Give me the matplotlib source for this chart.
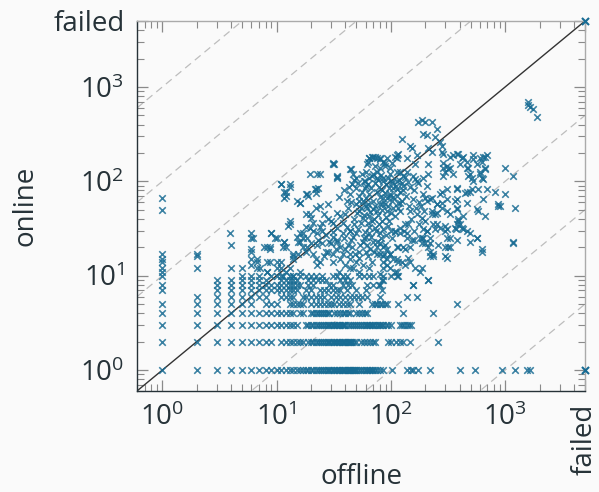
import matplotlib
matplotlib.use('Agg')
import matplotlib.pyplot as plt
from matplotlib.ticker import LogLocator, NullFormatter

plt.rcParams['font.family'] = ['Open Sans', 'DejaVu Sans']
plt.rcParams['mathtext.fontset'] = 'custom'
plt.rcParams['mathtext.rm'] = 'Open Sans'
plt.rcParams['mathtext.it'] = 'Open Sans:italic'
plt.rcParams['mathtext.bf'] = 'Open Sans:bold'

FAILED = 5000  # plotted at the axis edge

# runs with integer online time: online value -> offline values
row_y = [1, 2, 3, 4, 5, 6, 7, 8, 9, 10]
row_x = [
    [1, 2, 3, 4, 5, 6, 7, 8, 9, 10, 11, 12, 13, 14, 15, 16, 17, 18, 19, 20, 21, 22, 23, 24, 25,
     26, 27, 28, 29, 30, 31, 32, 33, 34, 35, 36, 37, 38, 39, 40, 41, 42, 43, 44, 45, 46, 47, 48,
     49, 50, 52, 54, 56, 58, 60, 62, 64, 66, 68, 70, 72, 76, 80, 86, 102, 138, 150, 155, 172,
     220, 400, 545, 940, 1230, 1560, 1660],
    [1, 2, 3, 4, 5, 6, 7, 8, 9, 11, 12, 13, 14, 15, 16, 17, 19, 20, 21, 22, 23, 24, 25, 26, 27,
     28, 29, 30, 31, 32, 33, 34, 35, 36, 37, 38, 39, 40, 41, 42, 43, 44, 45, 46, 48, 50, 55, 58,
     62, 66, 70, 72, 95, 100, 110, 120, 127, 147, 260],
    [1, 2, 3, 4, 5, 6, 7, 8, 9, 10, 11, 12, 13, 14, 15, 18, 19, 20, 21, 22, 23, 24, 25, 26, 27,
     28, 29, 30, 31, 32, 33, 34, 35, 36, 37, 38, 39, 40, 42, 44, 46, 48, 50, 52, 54, 56, 58, 60,
     62, 64, 66, 68, 70, 72, 75, 78, 80, 83, 86, 90, 95, 100, 120, 125, 130, 138, 145, 150],
    [1, 2, 3, 4, 5, 6, 7, 8, 9, 10, 11, 12, 13, 14, 16, 17, 20, 21, 22, 23, 24, 25, 26, 27, 28,
     29, 32, 34, 36, 38, 40, 42, 44, 50, 53, 56, 59, 62, 127, 234],
    [1, 2, 3, 4, 5, 6, 8, 9, 10, 13, 14, 15, 16, 17, 20, 22, 24, 26, 28, 30, 32, 35, 38, 41, 44,
     53, 68, 72, 76, 80, 84, 88, 92, 115, 380],
    [2, 3, 4, 5, 6, 7, 8, 11, 12, 13, 14, 17, 18, 20, 22, 24, 26, 30, 33, 36, 40, 44, 48, 52, 56,
     62, 138, 168],
    [1, 3, 4, 5, 6, 7, 8, 9, 10, 11, 12, 13, 14, 15, 18, 20, 24, 26, 28, 31, 34, 36, 41, 50, 60],
    [1, 3, 4, 5, 6, 7, 8, 9, 10, 11, 12, 13, 14, 15, 16, 19, 21, 29, 31, 38, 42, 46, 62, 70, 78,
     156],
    [3, 4, 5, 6, 7, 8, 11, 12, 13, 14, 15, 19, 21, 23, 25, 27, 36, 40, 44, 85, 211],
    [1, 5, 6, 7, 9, 10, 11, 13, 14, 16, 18, 20, 22, 25, 31, 34, 38, 41, 53, 58, 64, 70, 85, 100,
     115],
]

# short offline runs, higher online times
small_pts = [(1, 11), (1, 12), (1, 14), (1, 15), (1, 17), (1, 50), (1, 66), (2, 12), (2, 16),
             (2, 17), (4, 12), (5, 12), (6, 13), (6, 15), (3.9, 28), (4, 21), (6, 28), (6, 25),
             (6, 18), (9, 28), (10, 25), (8.2, 20), (8.7, 20), (11.7, 23), (11.3, 20),
             (13.8, 16), (13.8, 17), (11, 93), (13, 88), (11.7, 78), (11.7, 66), (13, 35),
             (18.3, 73), (15.9, 59), (21.5, 82), (22.9, 84), (20.7, 36), (19.5, 45), (23.8, 55),
             (25, 36), (6.8, 14), (8.2, 14), (10, 14), (11, 14), (6.8, 12), (8.2, 11), (11, 12),
             (12.2, 11), (13.8, 10), (15, 62), (15, 26)]

core_pts = [(31, 151), (34, 110), (11, 93), (13, 93), (12, 78), (12, 70), (16, 59), (18, 73),
            (19, 70), (22, 82), (22, 75), (22, 52), (18, 45), (20, 41), (13, 38), (12.5, 34),
            (28, 57), (34, 46), (36, 43), (44, 73), (41, 62), (50, 57), (53, 48), (30, 38),
            (9, 28), (9.6, 25), (7.8, 20), (8.7, 19), (11.7, 23), (12.2, 20), (16, 28),
            (15.3, 23), (17, 25), (18.3, 25), (14, 15), (15.3, 17), (17, 20), (18, 18), (20, 22),
            (22.4, 21), (25, 22), (22, 15), (22.4, 13), (28, 18), (31, 17), (31, 26), (34, 23),
            (39, 25), (42, 21), (36, 15), (44, 17), (50, 14), (6.2, 25), (6, 19), (6.8, 15),
            (8.7, 14), (10, 12), (7.1, 12), (8.2, 11), (13, 12), (11.3, 10), (16, 11),
            (65, 175), (72, 183), (80, 171), (92, 175), (102, 155), (113, 175), (61, 127),
            (68, 113), (75, 127), (85, 108), (98, 119), (113, 127), (59, 84), (65, 73), (75, 78),
            (85, 66), (98, 73), (113, 82), (53, 62), (61, 55), (70, 51), (80, 57), (92, 48),
            (104, 52), (115, 59), (57, 41), (63, 36), (72, 32), (83, 38), (94, 34), (108, 30),
            (61, 26), (70, 23), (80, 28), (89, 21), (102, 25), (113, 20), (53, 18), (63, 16),
            (75, 17), (85, 14), (98, 17), (115, 14), (31, 36), (34, 32), (38, 36), (44, 30),
            (48, 35), (44, 12), (53, 11), (65, 12), (80, 10.5), (98, 12), (113, 10),
            (46, 93), (50, 84), (53, 70), (57, 62), (62, 52), (65, 43), (69, 38), (75, 48),
            (83, 57), (92, 66), (102, 62), (115, 52), (120, 48), (108, 43), (125, 62), (113, 70),
            (98, 70), (88, 75), (44, 30), (50, 28), (57, 23), (65, 28), (75, 23), (85, 20),
            (98, 17), (113, 15), (127, 20), (141, 15.5), (61, 18), (53, 15.5), (46, 20), (38, 17),
            (34, 24), (29, 23), (27, 18), (31, 14), (35, 11), (24, 14), (20.7, 17), (18.3, 20),
            (16, 23), (17, 28), (19.5, 32), (22.4, 28), (25, 30), (31, 29)]

# extra runs in the crowded part around the diagonal
dense_pts = [(40, 45), (42, 52), (45, 60), (48, 40), (51, 46), (55, 52), (58, 44), (60, 66),
             (63, 58), (66, 47), (70, 62), (73, 55), (77, 44), (80, 68), (84, 50), (88, 58),
             (90, 42), (95, 55), (100, 46), (105, 68), (38, 28), (41, 33), (47, 26), (52, 31),
             (55, 36), (59, 29), (64, 33), (67, 26), (71, 40), (74, 30), (78, 35), (82, 25),
             (86, 31), (91, 27), (96, 38), (100, 30), (36, 20), (40, 19), (45, 24), (49, 17),
             (54, 21), (58, 25), (62, 21), (66, 19), (71, 18), (76, 20), (81, 22), (87, 17),
             (93, 19), (56, 78), (60, 90), (67, 85), (72, 96), (78, 88), (84, 80), (90, 94),
             (96, 86), (103, 100), (110, 90), (118, 104), (124, 95), (132, 110), (140, 98),
             (148, 88), (58, 100), (64, 108), (70, 120), (77, 104), (82, 118), (52, 95),
             (48, 104), (43, 88), (39, 80), (35, 68), (26, 45), (28, 40), (24, 33), (27, 27),
             (30, 22), (33, 19), (26, 16), (23, 24), (21, 30), (18, 33), (44, 15), (40, 13),
             (47, 12), (57, 13), (69, 14), (92, 13), (104, 15), (130, 30), (140, 35), (150, 40),
             (160, 30), (170, 45), (145, 55), (155, 65), (165, 52), (175, 60), (135, 70),
             (128, 80), (160, 80), (185, 55), (195, 48), (200, 38), (175, 35), (160, 24)]

upper_pts = [(173, 428), (187, 450), (199, 428), (229, 428), (253, 361), (191, 317), (207, 312),
             (243, 298), (269, 264), (125, 284), (147, 234), (153, 223), (211, 223), (169, 192),
             (113, 192), (350, 192), (387, 197), (420, 175), (286, 197), (310, 144), (524, 192),
             (641, 183), (695, 192), (568, 151), (629, 162), (668, 137), (604, 127), (464, 162),
             (473, 137), (211, 151), (286, 137), (316, 134), (493, 119), (514, 108), (629, 108),
             (1000, 137), (1175, 113), (286, 113), (65, 175), (70, 183), (80, 175), (62, 151),
             (108, 183), (115, 197), (138, 175), (162, 151), (89, 155), (98, 137), (45, 134),
             (32, 151), (34, 113), (19.5, 121), (22.4, 119), (24, 121), (56, 119), (59, 100),
             (63, 93), (75, 108), (85, 100), (120, 127), (127, 113), (162, 105), (173, 95),
             (207, 89), (269, 73), (379, 82), (446, 75), (493, 78), (579, 82), (817, 78),
             (1000, 73), (641, 65), (903, 55), (1224, 52), (199, 66), (220, 65), (253, 57),
             (280, 59), (310, 48), (364, 62), (379, 52), (229, 45), (243, 45), (387, 40),
             (403, 35), (568, 51), (464, 30), (568, 25), (868, 57), (1175, 23), (629, 19),
             (120, 59), (147, 48), (187, 41), (207, 30), (253, 35), (298, 30), (364, 32),
             (493, 23), (138, 28), (180, 25), (199, 22), (220, 25),
             (1590, 700), (1660, 620), (1750, 590), (1900, 480), (1600, 640)]

mid_pts = [(234, 35), (269, 32), (298, 34), (243, 31), (379, 35), (420, 32), (373, 31), (493, 28),
           (568, 25), (629, 18), (1175, 22), (191, 25), (207, 30), (187, 22), (220, 22), (258, 21),
           (310, 25), (316, 20), (234, 16), (298, 16), (220, 18), (138, 25), (153, 24), (120, 32),
           (133, 35), (108, 29), (120, 28), (115, 20), (133, 19), (147, 14), (162, 12), (180, 11),
           (187, 12), (125, 14), (133, 13), (113, 11), (211, 9), (156, 8), (83, 9), (80, 8),
           (83, 7), (80, 6), (85, 12), (108, 11), (85, 16), (92, 15), (80, 17),
           (280, 234), (280, 207), (229, 207), (68, 183), (75, 175), (85, 162), (89, 144),
           (80, 137), (72, 144), (63, 162), (44, 134), (47, 121), (50, 108), (31, 155), (34, 108),
           (94, 108), (102, 95), (113, 100), (104, 84), (120, 78), (127, 89), (138, 127),
           (156, 113), (169, 100), (191, 108), (211, 121), (329, 183), (379, 197), (428, 183),
           (403, 151), (464, 137), (524, 171), (604, 175), (668, 183), (286, 155), (298, 127),
           (329, 137), (350, 119), (604, 121), (641, 105), (668, 134), (473, 113), (524, 100),
           (191, 73), (207, 62), (229, 66), (253, 57), (280, 52), (253, 46), (229, 48), (280, 78),
           (310, 82), (379, 84), (464, 78), (514, 82), (310, 65), (379, 65), (464, 59), (379, 51),
           (329, 45), (387, 38), (428, 43), (695, 82), (868, 55), (668, 43), (579, 48), (310, 31),
           (329, 25), (379, 24), (428, 31), (298, 20), (329, 20), (191, 31), (187, 25), (211, 20),
           (234, 17), (310, 15.5), (147, 20), (220, 16)]

failed_pts = [(FAILED, FAILED), (FAILED, 1)]

xs, ys = [], []
for yv, xrow in zip(row_y, row_x):
    xs += xrow
    ys += [yv] * len(xrow)
for group in (small_pts, core_pts, dense_pts, upper_pts, mid_pts):
    xs += [p[0] for p in group]
    ys += [p[1] for p in group]

TXT = '#263238'
BLUE = '#176b93'
LO, HI = 0.6, FAILED

fig = plt.figure(figsize=(5.99, 4.92), dpi=100, facecolor='#fafafa')
ax = fig.add_axes([137 / 599, 1 - 391 / 492, 448 / 599, 370 / 492])
ax.set_facecolor('#fafafa')
ax.set_xscale('log')
ax.set_yscale('log')
ax.set_xlim(LO, HI)
ax.set_ylim(LO, HI)

# guide lines: factor 10, 100, 1000 either side of the diagonal
for f in [10, 100, 1000]:
    ax.plot([LO, HI], [LO * f, HI * f], color='#bdbdbd', lw=0.9, dashes=(6, 4), zorder=1)
    ax.plot([LO, HI], [LO / f, HI / f], color='#bdbdbd', lw=0.9, dashes=(6, 4), zorder=1)
ax.plot([LO, HI], [LO, HI], color='#333333', lw=1.0, zorder=2)

ax.scatter(xs, ys, marker='x', s=22, linewidths=1.15, color=BLUE, alpha=0.85, zorder=3)
ax.scatter([p[0] for p in failed_pts], [p[1] for p in failed_pts], marker='x', s=26,
           linewidths=1.5, color=BLUE, zorder=4, clip_on=False)

major = [1, 10, 100, 1000, FAILED]
labels = [r'$10^0$', r'$10^1$', r'$10^2$', r'$10^3$', 'failed']
ax.set_xticks(major)
ax.set_xticklabels(labels)
ax.set_yticks(major)
ax.set_yticklabels(labels)
for axis in (ax.xaxis, ax.yaxis):
    axis.set_minor_locator(LogLocator(base=10, subs=range(2, 10)))
    axis.set_minor_formatter(NullFormatter())

ax.tick_params(which='both', direction='in', top=True, right=True, colors='#8a8a8a',
               labelcolor=TXT, labelsize=20, pad=9)
ax.tick_params(which='major', length=8, width=0.9)
ax.tick_params(which='minor', length=5, width=0.8)
xl = ax.get_xticklabels()[-1]
xl.set_rotation(90)
xl.set_va('top')

for s in ('left', 'bottom'):
    ax.spines[s].set_color(TXT)
    ax.spines[s].set_linewidth(1.0)
for s in ('top', 'right'):
    ax.spines[s].set_color('#aaaaaa')
    ax.spines[s].set_linewidth(1.0)

ax.set_xlabel('offline', fontsize=20, color=TXT)
ax.xaxis.label.set_va('baseline')
ax.xaxis.set_label_coords(0.5, (391 - 484) / 370)
ax.set_ylabel('online', fontsize=20, color=TXT)
ax.yaxis.set_label_coords((40 - 137) / 448, 0.5)

fig.savefig('out.png', dpi=100, facecolor=fig.get_facecolor())
plt.close(fig)
